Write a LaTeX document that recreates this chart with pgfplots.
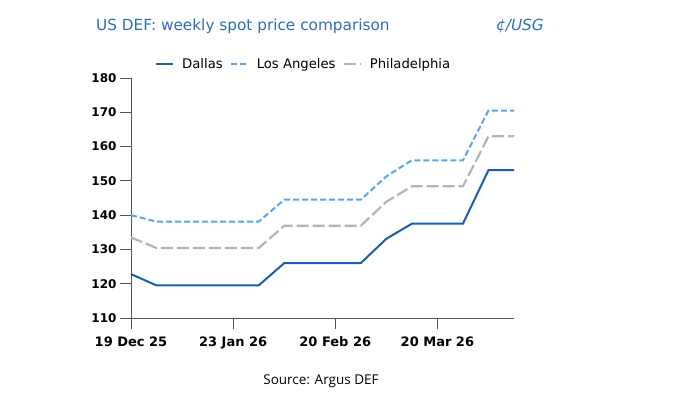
\documentclass[border=0pt]{standalone}
\usepackage{pgfplots}
\pgfplotsset{compat=1.18}
\usepackage{fontspec}
\setmainfont{DejaVu Sans}
\newfontfamily\srcfont{Open Sans}
\definecolor{dallas}{HTML}{1A5FAD}
\definecolor{la}{HTML}{5AA5E6}
\definecolor{phil}{HTML}{B4B4B4}
\definecolor{titleblue}{HTML}{2F6DB5}
\definecolor{axisgray}{HTML}{555555}
\begin{document}
\begin{tikzpicture}[x=1pt,y=1pt]
\path[use as bounding box] (0,0) rectangle (673,395);
\node[anchor=base west, inner sep=0, text=titleblue, font=\fontsize{15.3}{18}\selectfont] at (96,364) {US DEF: weekly spot price comparison};
\node[anchor=base east, inner sep=0, text=titleblue, font=\fontsize{15.3}{18}\selectfont\itshape] at (544,364) {¢/USG};
\node[anchor=base, inner sep=0, font=\fontsize{13.5}{16}\selectfont\srcfont] at (321,10) {Source: Argus DEF};
\begin{axis}[
  at={(131pt,77pt)}, anchor=south west,
  scale only axis, width=383pt, height=240pt,
  xmin=0, xmax=15, ymin=110, ymax=180,
  axis lines=left, axis line style={axisgray, line width=0.8pt, -},
  clip=false,
  xtick={0,4,8,12},
  xticklabels={19 Dec 25,23 Jan 26,20 Feb 26,20 Mar 26},
  ytick={110,120,...,180},
  tick align=outside, major tick length=11pt,
  tick style={axisgray, line width=0.8pt},
  minor tick num=0,
  /pgf/number format/assume math mode=true,
  ticklabel style={font=\fontsize{12}{14}\selectfont\bfseries, text=black},
  xticklabel style={yshift=-4pt, font=\fontsize{13}{15}\selectfont\bfseries},
  legend columns=3,
  legend style={draw=none, fill=none, at={(0.0627,1.058)}, anchor=west, inner sep=0pt,
    font=\fontsize{13.2}{15}\selectfont,
    /tikz/every odd column/.append style={column sep=6pt},
    /tikz/every even column/.append style={column sep=5pt}},
  legend cell align=left,
  legend image code/.code={\draw[#1] (0pt,0pt) -- (17pt,0pt);},
]
\addplot[dallas, line width=2pt] coordinates {
(0,122.8)(1,119.5)(2,119.5)(3,119.5)(4,119.5)(5,119.5)(6,126.0)(7,126.0)(8,126.0)(9,126.0)(10,133.1)(11,137.5)(12,137.5)(13,137.5)(14,153.1)(15,153.1)};
\addlegendentry{Dallas}
\addplot[la, line width=2pt, dash pattern=on 6pt off 3pt] coordinates {
(0,140.0)(1,138.1)(2,138.1)(3,138.1)(4,138.1)(5,138.1)(6,144.5)(7,144.5)(8,144.5)(9,144.5)(10,151.3)(11,156.0)(12,156.0)(13,156.0)(14,170.5)(15,170.5)};
\addlegendentry{Los Angeles}
\addplot[phil, line width=2.2pt, dash pattern=on 12pt off 4pt] coordinates {
(0,133.5)(1,130.4)(2,130.4)(3,130.4)(4,130.4)(5,130.4)(6,136.9)(7,136.9)(8,136.9)(9,136.9)(10,143.9)(11,148.4)(12,148.4)(13,148.4)(14,163.0)(15,163.0)};
\addlegendentry{Philadelphia}
\end{axis}
\end{tikzpicture}
\end{document}
